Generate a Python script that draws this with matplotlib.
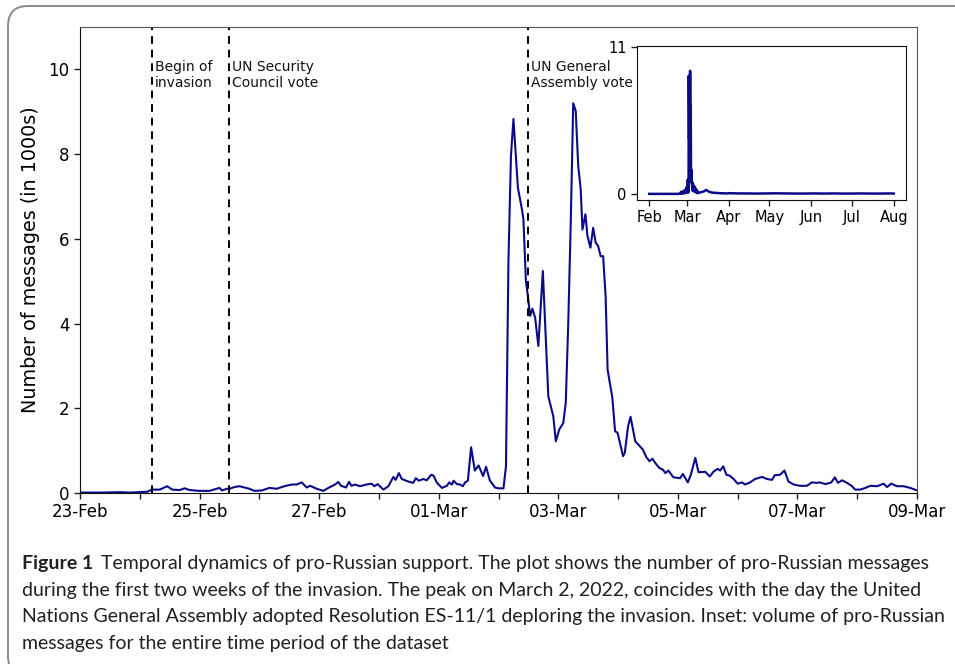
import matplotlib
matplotlib.use('Agg')
import matplotlib.pyplot as plt
import matplotlib.dates as mdates
from matplotlib.patches import FancyBboxPatch
from matplotlib.transforms import IdentityTransform
import pandas as pd

# ========== DATA ==========
START = pd.Timestamp('2022-02-23')

# readings of the main curve: hours since 23-Feb 00:00, messages in 1000s
hours = [0, 8, 16, 20, 24, 27, 29, 32, 35, 37, 40, 42, 44, 48, 52, 56, 57, 59,
         60, 62, 64, 66, 68, 70, 73, 76, 79, 82, 85, 87, 89, 91, 92.4, 95, 97.7,
         99.7, 102.4, 103.7, 104.8, 106.8, 108, 109, 110.4, 112.4, 115, 117,
         118.2, 119.5, 121.8, 123.8, 125.8, 126.7, 128, 129.2, 131.8, 133.8,
         134.8, 136, 137.8, 139.2, 141, 141.9, 143.3, 145.3, 147.3, 148.2, 149.3,
         150, 151.3, 152.6, 153.7, 154.6, 155.7, 157, 158.5, 160, 161.8, 163,
         164.5, 166.6, 168, 170, 171, 172, 173, 174, 175.8, 177.4, 178, 179,
         179.8, 180.7, 181.6, 182.7, 184, 185.8, 187, 188, 190, 191, 192.4, 194,
         195, 196, 197, 198, 199, 200, 201, 201.7, 202.9, 203.7, 204.9, 206, 207,
         208, 209, 210, 211, 211.8, 212.7, 213.7, 214.8, 215.8, 218, 218.7, 220,
         221, 222, 222.9, 224.2, 226, 227.3, 228.6, 229.8, 230.9, 232.6, 234, 235,
         236.2, 238.2, 240.9, 242, 244, 245.2, 247, 248.3, 251, 252.8, 254.4, 256,
         257, 258.2, 259.5, 260.8, 262.4, 264, 265.7, 267, 269, 271, 273.8, 275.8,
         277.8, 278.9, 281, 282.8, 284.4, 286.5, 289, 291.8, 293.8, 295.8, 297,
         299.2, 301.6, 303, 304.3, 305.9, 307.9, 309.9, 311.2, 313.2, 315.3, 317.3,
         320, 322.6, 324, 325.6, 328, 330.6, 333.3, 336]
counts = [0.01, 0.01, 0.02, 0.01, 0.02, 0.03, 0.08, 0.08, 0.16, 0.08, 0.07, 0.11,
          0.07, 0.05, 0.05, 0.12, 0.06, 0.10,
          0.10, 0.14, 0.16, 0.13, 0.10, 0.05, 0.06, 0.12, 0.10, 0.16, 0.20, 0.20,
          0.25, 0.13, 0.17, 0.10, 0.05,
          0.12, 0.20, 0.26, 0.17, 0.13, 0.26, 0.17, 0.20, 0.16, 0.20, 0.22,
          0.16, 0.21, 0.08, 0.16, 0.38, 0.31, 0.47, 0.33, 0.27, 0.24,
          0.35, 0.29, 0.33, 0.30, 0.43, 0.41, 0.24, 0.12, 0.17, 0.25, 0.20,
          0.29, 0.21, 0.20, 0.16, 0.25, 0.29, 1.08, 0.53, 0.65, 0.40, 0.62,
          0.30, 0.13, 0.11, 0.11, 0.63, 5.50, 7.96, 8.83, 7.20, 6.70, 6.46, 5.00,
          4.65, 4.18, 4.35, 4.14, 3.47, 5.24, 3.62, 2.28, 1.81, 1.22, 1.50, 1.65,
          2.13, 4.00, 6.38, 9.20, 9.02, 7.72, 7.17, 6.22, 6.58, 6.07, 5.79, 6.26, 5.91,
          5.83, 5.59, 5.59, 4.65, 2.91, 2.60, 2.25, 1.46, 1.42, 0.87, 0.95, 1.57,
          1.80, 1.50, 1.22, 1.14, 1.02, 0.85, 0.75, 0.81, 0.71, 0.59, 0.55, 0.47,
          0.53, 0.37, 0.35, 0.45, 0.25, 0.43, 0.83, 0.49, 0.50, 0.39, 0.51, 0.57,
          0.53, 0.63, 0.43, 0.41, 0.33, 0.22, 0.25, 0.20, 0.25, 0.33, 0.38, 0.33,
          0.31, 0.42, 0.43, 0.53, 0.27, 0.20, 0.17, 0.17, 0.25, 0.24, 0.25,
          0.21, 0.25, 0.37, 0.24, 0.30, 0.24, 0.16, 0.08, 0.08, 0.12, 0.17,
          0.16, 0.22, 0.14, 0.22, 0.16, 0.16, 0.12, 0.06]

# daily readings for the inset, before and after the two-week window
pre_counts = [0.01, 0.00, 0.01, 0.01, 0.00, 0.01, 0.01, 0.00, 0.01, 0.01, 0.01,
              0.00, 0.01, 0.01, 0.00, 0.01, 0.01, 0.01, 0.00, 0.01, 0.01, 0.01]
march_counts = [0.10, 0.12, 0.15, 0.18, 0.22, 0.30, 0.25, 0.18, 0.14, 0.12, 0.10,
                0.09, 0.08, 0.08, 0.07, 0.06, 0.06, 0.05, 0.05, 0.05, 0.04, 0.04]
late_counts = [0.06, 0.04, 0.04, 0.03, 0.04, 0.05, 0.04, 0.03, 0.03, 0.04, 0.03,
               0.04, 0.03, 0.03, 0.04, 0.03, 0.03, 0.04, 0.03]

events = ['2022-02-24 05:00', '2022-02-25 12:00', '2022-03-02 12:00']
event_labels = ['Begin of\ninvasion', 'UN Security\nCouncil vote', 'UN General\nAssembly vote']

caption_bold = 'Figure 1'
caption_lines = [
    'Temporal dynamics of pro-Russian support. The plot shows the number of pro-Russian messages',
    'during the first two weeks of the invasion. The peak on March 2, 2022, coincides with the day the United',
    'Nations General Assembly adopted Resolution ES-11/1 deploring the invasion. Inset: volume of pro-Russian',
    'messages for the entire time period of the dataset',
]

times = START + pd.to_timedelta(hours, unit='h')
pre_dates = pd.date_range('2022-02-01', '2022-02-22', freq='D')
march_dates = pd.date_range('2022-03-10', '2022-03-31', freq='D')
late_dates = list(pd.date_range('2022-04-01', '2022-07-29', freq='7D')) + [pd.Timestamp('2022-08-01')]

full_t = list(pre_dates) + list(times) + list(march_dates) + late_dates
full_v = pre_counts + counts + march_counts + late_counts

# ========== FIGURE ==========
W, H = 955, 664
fig = plt.figure(figsize=(W / 100, H / 100), dpi=100)
LINE = '#0b0b8a'

# rounded frame around figure + caption (runs off the right and bottom edges)
frame = FancyBboxPatch((8, -12), 1100, 670, boxstyle='round,pad=0,rounding_size=20',
                       transform=IdentityTransform(), facecolor='none',
                       edgecolor='#8a8a8a', linewidth=1.4)
fig.add_artist(frame)

ax = fig.add_axes([80 / W, 1 - 493 / H, 837 / W, 466 / H])
ax.plot(times, counts, color=LINE, linewidth=1.5)
ax.set_xlim(START, START + pd.Timedelta(days=14))
ax.set_ylim(0, 11)
ax.set_yticks([0, 2, 4, 6, 8, 10])
ax.xaxis.set_major_locator(mdates.DayLocator(bymonthday=range(1, 32, 2)))
ax.xaxis.set_minor_locator(mdates.DayLocator())
ax.xaxis.set_major_formatter(mdates.DateFormatter('%d-%b'))
ax.tick_params(axis='both', which='both', length=4, width=1, labelsize=12, color='#222222')
ax.set_ylabel('Number of messages (in 1000s)', fontsize=13.8, labelpad=6)
for s in ['top', 'right']:
    ax.spines[s].set_color('#555555')
for s in ['left', 'bottom']:
    ax.spines[s].set_color('#111111')

for ev, lab in zip(events, event_labels):
    d = pd.Timestamp(ev)
    ax.axvline(d, color='black', linestyle=(0, (4, 3)), linewidth=1.4)
    ax.annotate(lab, xy=(d, 10.22), xytext=(2, 0), textcoords='offset points',
                ha='left', va='top', fontsize=10, color='#111111')

# ---- inset ----
axi = fig.add_axes([637 / W, 1 - 200 / H, 269 / W, 154 / H])
axi.plot(full_t, full_v, color=LINE, linewidth=1.8)
axi.set_ylim(-0.45, 11.05)
axi.set_yticks([0, 11])
axi.xaxis.set_major_locator(mdates.MonthLocator())
axi.xaxis.set_major_formatter(mdates.DateFormatter('%b'))
axi.tick_params(axis='both', length=4, width=1, labelsize=10.5, color='#222222')
for s in axi.spines.values():
    s.set_color('#111111')

# ---- caption ----
cap_kw = dict(family='Lato', color='#231f20', va='baseline')
baselines = [569, 596, 622, 649]
fig.canvas.draw()
r = fig.canvas.get_renderer()
fs = 14.0
for _ in range(2):
    tb = fig.text(22 / W, 1 - baselines[0] / H, caption_bold, fontweight='bold', fontsize=fs, **cap_kw)
    w_bold = tb.get_window_extent(r).width
    tr = fig.text((22 + w_bold + 8) / W, 1 - baselines[0] / H, caption_lines[0], fontsize=fs, **cap_kw)
    right = tr.get_window_extent(r).x1
    tb.remove(); tr.remove()
    fs *= (928 - 22) / (right - 22)
tb = fig.text(22 / W, 1 - baselines[0] / H, caption_bold, fontweight='bold', fontsize=fs, **cap_kw)
w_bold = tb.get_window_extent(r).width
fig.text((22 + w_bold + 8) / W, 1 - baselines[0] / H, caption_lines[0], fontsize=fs, **cap_kw)
for line, b in zip(caption_lines[1:], baselines[1:]):
    fig.text(22 / W, 1 - b / H, line, fontsize=fs, **cap_kw)

fig.savefig('out.png', dpi=100)
